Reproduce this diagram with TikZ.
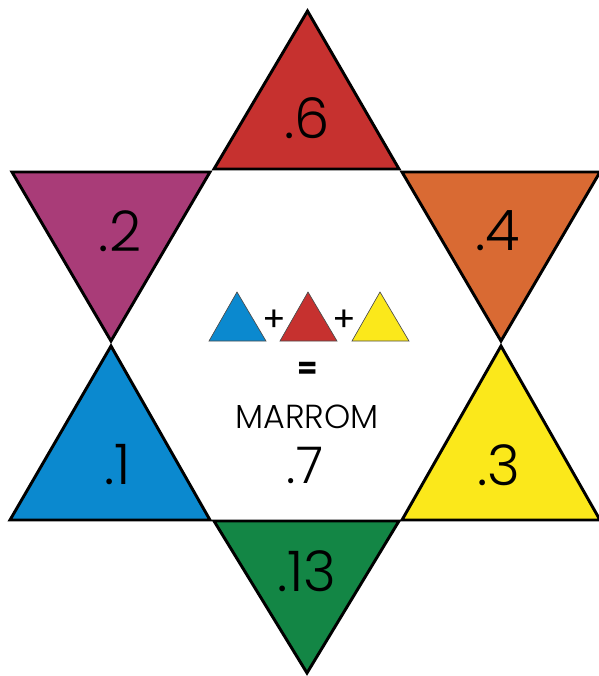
\documentclass[tikz,border=0pt]{standalone}
\usepackage{fontspec}
\setmainfont{Poppins Light}
\newfontfamily\dik{Poppins}
\definecolor{rood}{HTML}{C6312F}
\definecolor{paars}{HTML}{A93C78}
\definecolor{oranje}{HTML}{D96A33}
\definecolor{blauw}{HTML}{0B89CF}
\definecolor{geel}{HTML}{FBE81B}
\definecolor{groen}{HTML}{138645}
\begin{document}
\begin{tikzpicture}[x=0.75pt,y=-0.75pt,
  piece/.style={draw=black,line width=2.2pt},
  mini/.style={draw=black!70,line width=0.5pt},
  num/.style={font=\fontsize{42}{42}\selectfont},
  som/.style={font=\dik\fontsize{26}{26}\selectfont}]
\useasboundingbox (0,0) rectangle (599,676);
\filldraw[piece,fill=rood] (307.5,11) -- (399,169) -- (214,169) -- cycle;
\filldraw[piece,fill=paars] (12,172) -- (210,172) -- (111,341) -- cycle;
\filldraw[piece,fill=oranje] (402,172) -- (600,172) -- (501,341) -- cycle;
\filldraw[piece,fill=blauw] (111,346) -- (210,520) -- (10,520) -- cycle;
\filldraw[piece,fill=geel] (501,346) -- (600,520) -- (402,520) -- cycle;
\filldraw[piece,fill=groen] (214,521) -- (399,521) -- (307,673) -- cycle;
\node[num] (zes) at (307,118) {.6};
\node[num] (twee) at (120,231) {.2};
\node[num] (vier) at (498,231) {.4};
\node[num] (een) at (118,465) {.1};
\node[num] (drie) at (499,465) {.3};
\node[num] (dertien) at (307,571) {.13};
\filldraw[mini,fill=blauw] (237,292) -- (266,341) -- (209,341) -- cycle;
\filldraw[mini,fill=rood] (308,292) -- (337,341) -- (280,341) -- cycle;
\filldraw[mini,fill=geel] (380,292) -- (409,341) -- (352,341) -- cycle;
\node[som] (plus1) at (274,321) {+};
\node[som] (plus2) at (344,321) {+};
\node[font=\dik\fontsize{22}{22}\selectfont\bfseries] (is) at (308,370) {=};
\node[font=\fontsize{25}{25}\selectfont] (naam) at (307,417) {MARROM};
\node[font=\fontsize{38}{38}\selectfont] (zeven) at (305,465) {.7};
\end{tikzpicture}
\end{document}
